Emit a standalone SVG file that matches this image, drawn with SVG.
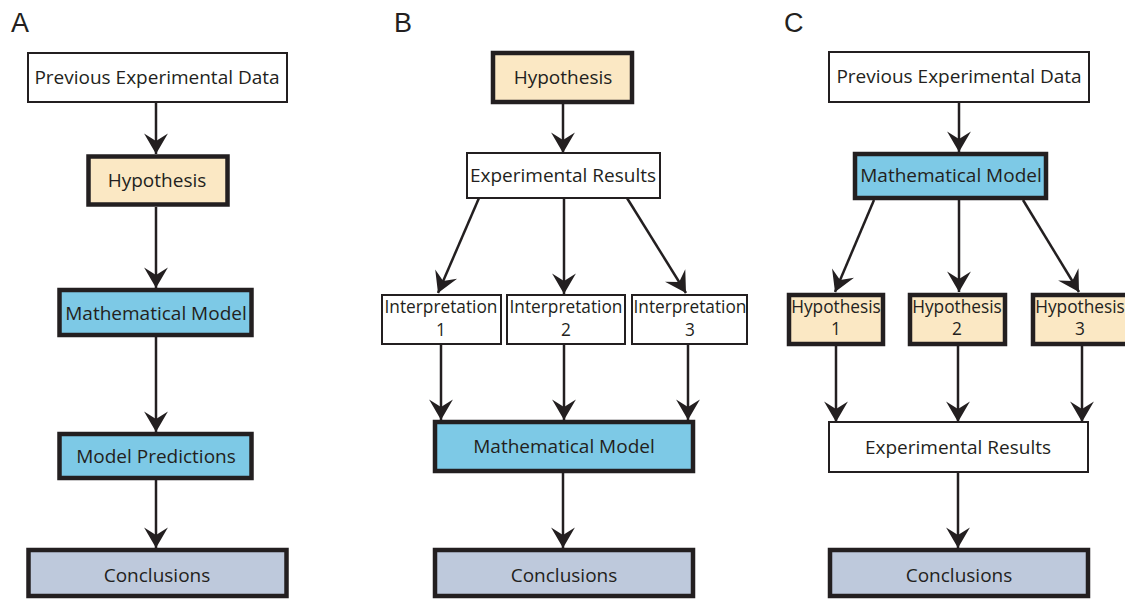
<svg xmlns="http://www.w3.org/2000/svg" width="1125" height="600" viewBox="0 0 1125 600">
<style>
.bg{fill:#ffffff}
.thin{stroke:#231f20;stroke-width:2;fill:#ffffff}
.thick{stroke:#231f20;stroke-width:4.5}
.hyp{fill:#fbe8c4}
.mm{fill:#7dc9e6}
.con{fill:#bec9dc}
.t{font-family:"Open Sans","Liberation Sans",sans-serif;font-size:19px;fill:#231f20;text-anchor:middle}
.s{font-size:17.3px}
.lab{font-family:"Liberation Sans",Arial,sans-serif;font-size:27px;fill:#231f20}
.c{stroke:#231f20;stroke-width:2.5;fill:none;marker-end:url(#ah)}
</style>
<defs>
<marker id="ah" markerUnits="userSpaceOnUse" markerWidth="24" markerHeight="26" viewBox="-20 -12 21 24" refX="0" refY="0" orient="auto">
<path d="M0,0 L-19,-11 L-12,0 L-19,11 Z" fill="#231f20"/>
</marker>
</defs>
<rect class="bg" x="0" y="0" width="1125" height="600"/>
<text class="lab" x="11" y="32">A</text>
<text class="lab" x="394" y="32">B</text>
<text class="lab" x="784" y="32">C</text>

<g id="connectors">
<line class="c" x1="156" y1="102" x2="156" y2="154"/>
<line class="c" x1="156" y1="207" x2="156" y2="288"/>
<line class="c" x1="156" y1="337" x2="156" y2="432"/>
<line class="c" x1="156" y1="480" x2="156" y2="548"/>

<line class="c" x1="563" y1="104" x2="563" y2="153"/>
<line class="c" x1="479" y1="198" x2="438" y2="293"/>
<line class="c" x1="564" y1="198" x2="564" y2="294"/>
<line class="c" x1="627" y1="198" x2="686" y2="293"/>
<line class="c" x1="441" y1="344" x2="441" y2="420"/>
<line class="c" x1="564" y1="344" x2="564" y2="420"/>
<line class="c" x1="688" y1="344" x2="688" y2="420"/>
<line class="c" x1="563" y1="473" x2="563" y2="548"/>

<line class="c" x1="959" y1="103" x2="959" y2="152"/>
<line class="c" x1="874" y1="200" x2="835" y2="292"/>
<line class="c" x1="959" y1="200" x2="959" y2="292"/>
<line class="c" x1="1023" y1="200" x2="1079" y2="292"/>
<line class="c" x1="836" y1="346" x2="836" y2="422"/>
<line class="c" x1="958" y1="346" x2="958" y2="422"/>
<line class="c" x1="1082" y1="346" x2="1082" y2="422"/>
<line class="c" x1="958" y1="472" x2="958" y2="548"/>
</g>

<g id="A-prev"><rect class="thin" x="28" y="53" width="259" height="49"/><text class="t" x="157" y="84">Previous Experimental Data</text></g>
<g id="A-hyp"><rect class="thick hyp" x="88.5" y="156.5" width="139" height="48"/><text class="t" x="157" y="187">Hypothesis</text></g>
<g id="A-mm"><rect class="thick mm" x="59.5" y="290" width="192" height="45"/><text class="t" x="156" y="320">Mathematical Model</text></g>
<g id="A-pred"><rect class="thick mm" x="59.5" y="434" width="192" height="44"/><text class="t" x="156" y="463">Model Predictions</text></g>
<g id="A-conc"><rect class="thick con" x="28.5" y="550" width="258" height="46"/><text class="t" x="157" y="582">Conclusions</text></g>

<g id="B-hyp"><rect class="thick hyp" x="493" y="53" width="139" height="49"/><text class="t" x="563" y="84">Hypothesis</text></g>
<g id="B-res"><rect class="thin" x="467" y="153" width="193" height="45"/><text class="t" x="563" y="182">Experimental Results</text></g>
<g id="B-int1"><rect class="thin" x="382" y="295" width="119" height="49"/><text class="t s" x="441" y="313">Interpretation</text><text class="t s" x="441" y="336">1</text></g>
<g id="B-int2"><rect class="thin" x="507" y="295" width="118" height="49"/><text class="t s" x="566" y="313">Interpretation</text><text class="t s" x="566" y="336">2</text></g>
<g id="B-int3"><rect class="thin" x="632" y="295" width="115" height="49"/><text class="t s" x="690" y="313">Interpretation</text><text class="t s" x="690" y="336">3</text></g>
<g id="B-mm"><rect class="thick mm" x="435" y="422" width="258" height="49"/><text class="t" x="564" y="453">Mathematical Model</text></g>
<g id="B-conc"><rect class="thick con" x="435" y="550" width="258" height="46"/><text class="t" x="564" y="582">Conclusions</text></g>

<g id="C-prev"><rect class="thin" x="829" y="52" width="260" height="50"/><text class="t" x="959" y="83">Previous Experimental Data</text></g>
<g id="C-mm"><rect class="thick mm" x="855" y="154" width="191" height="44"/><text class="t" x="951" y="182">Mathematical Model</text></g>
<g id="C-hyp1"><rect class="thick hyp" x="789" y="295" width="94" height="49"/><text class="t s" x="836" y="313">Hypothesis</text><text class="t s" x="836" y="335">1</text></g>
<g id="C-hyp2"><rect class="thick hyp" x="910" y="295" width="95" height="49"/><text class="t s" x="957" y="313">Hypothesis</text><text class="t s" x="957" y="335">2</text></g>
<g id="C-hyp3"><rect class="thick hyp" x="1033" y="295" width="100" height="49"/><text class="t s" x="1080" y="313">Hypothesis</text><text class="t s" x="1080" y="335">3</text></g>
<g id="C-res"><rect class="thin" x="829" y="422" width="259" height="50"/><text class="t" x="958" y="454">Experimental Results</text></g>
<g id="C-conc"><rect class="thick con" x="830" y="550" width="258" height="46"/><text class="t" x="959" y="582">Conclusions</text></g>
</svg>
